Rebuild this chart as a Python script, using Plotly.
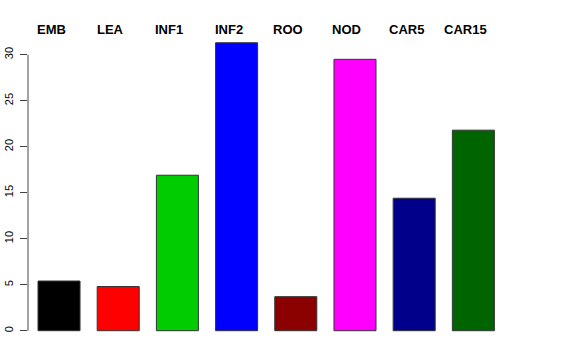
import plotly.graph_objects as go

categories = ["EMB", "LEA", "INF1", "INF2", "ROO", "NOD", "CAR5", "CAR15"]
values = [5.4, 4.8, 16.9, 31.3, 3.7, 29.5, 14.4, 21.8]
colors = ["#000000", "#FF0000", "#00CD00", "#0000FF", "#8B0000", "#FF00FF", "#00008B", "#006400"]
ytick_vals = [0, 5, 10, 15, 20, 25, 30]

xpos = list(range(len(categories)))

fig = go.Figure()
fig.add_trace(go.Bar(
    x=xpos, y=values, width=0.71,
    marker=dict(color=colors, line=dict(color="#333333", width=1)),
    hoverinfo="skip", showlegend=False,
))

for i, c in enumerate(categories):
    fig.add_annotation(x=i, y=1, xref="x", yref="paper", yshift=40 - 29.5, xshift=-8,
                       text="<b>" + c + "</b>", showarrow=False,
                       font=dict(family="Liberation Sans, Arial, sans-serif", size=13, color="black"),
                       yanchor="middle", xanchor="center")

# y axis line from 0 to 30 (R-style)
fig.add_shape(type="line", xref="paper", yref="y", x0=0, x1=0, y0=0, y1=30,
              line=dict(color="#444444", width=1))

fig.update_layout(
    width=576, height=360,
    margin=dict(l=28, r=60, t=40, b=20, autoexpand=False),
    plot_bgcolor="white", paper_bgcolor="white",
    font=dict(family="Liberation Sans, Arial, sans-serif", size=11, color="black"),
    xaxis=dict(range=[-0.524, 7.72], visible=False, showgrid=False, zeroline=False,
               automargin=False),
    yaxis=dict(range=[-1.01, 31.6], tickvals=ytick_vals, ticks="outside", ticklen=7,
               tickcolor="#444444", tickangle=-90, showgrid=False, zeroline=False,
               showline=False, tickfont=dict(size=11), ticklabelstandoff=3,
               automargin=False),
)

fig.write_html("out.html", config={"displayModeBar": False},
               post_script="document.body.style.margin='0';")
